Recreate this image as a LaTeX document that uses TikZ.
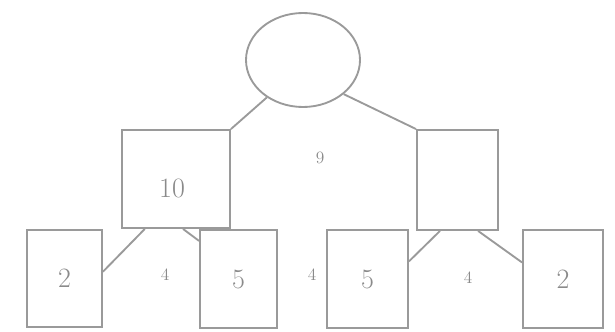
\documentclass[tikz,border=0pt]{standalone}
\usetikzlibrary{shapes.geometric}
\definecolor{ln}{HTML}{9A9A9A}
\definecolor{tx}{HTML}{8A8A8A}
\begin{document}
\begin{tikzpicture}[x=0.75pt,y=-0.75pt,
  boxnode/.style={draw=ln,line width=1.4pt,rectangle,inner sep=0pt},
  ovalnode/.style={draw=ln,line width=1.4pt,ellipse,inner sep=0pt,minimum width=85.5pt,minimum height=70.5pt},
  big/.style={text=tx,font=\fontsize{21}{25}\selectfont},
  small/.style={text=tx,font=\fontsize{13}{15}\selectfont},
  conn/.style={draw=ln,line width=1.4pt}]
\useasboundingbox (0,0) rectangle (615,332);
\node[ovalnode] (root) at (303,60) {};
\node[boxnode,minimum width=81pt,minimum height=73.5pt] (L) at (176,179) {};
\node[boxnode,minimum width=60.75pt,minimum height=75pt] (R) at (457.5,180) {};
\node[boxnode,minimum width=56.25pt,minimum height=72.75pt,big] (A) at (64.5,278.5) {2};
\node[boxnode,minimum width=57.75pt,minimum height=74pt,big] (B) at (238.5,279) {5};
\node[boxnode,minimum width=60.75pt,minimum height=73pt,big] (C) at (367.5,279) {5};
\node[boxnode,minimum width=60pt,minimum height=73pt,big] (D) at (563,279) {2};
\node[big] (t10) at (172,188) {10};
\node[small] (e0) at (320,158) {9};
\node[small] (e1) at (165,275) {4};
\node[small] (e2) at (312,275) {4};
\node[small] (e3) at (468,278) {4};
\draw[conn] (root.226) -- (L.north east);
\draw[conn] (root.-40) -- (R.north west);
\draw[conn] (A.10) -- (L.238);
\draw[conn] (L.278) -- (B.136);
\draw[conn] (C.23) -- (R.251);
\draw[conn] (R.292) -- (D.158);
\end{tikzpicture}
\end{document}
